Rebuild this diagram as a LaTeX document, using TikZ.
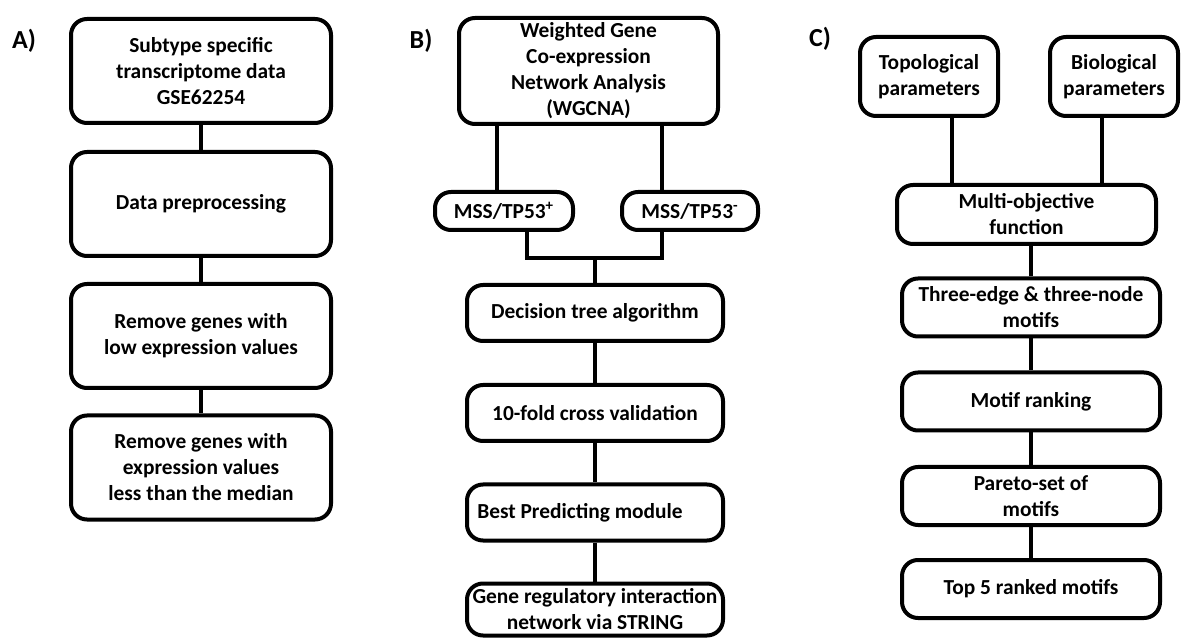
\documentclass[tikz,border=0pt]{standalone}
\usepackage{fontspec}
\setmainfont{Carlito}

\begin{document}
\begin{tikzpicture}[x=0.5pt, y=-0.5pt, line width=2pt,
  box/.style={draw, rounded corners=8pt, align=center, inner sep=1pt, font=\fontsize{10.7}{13}\selectfont\bfseries},
  abox/.style={box, minimum width=130pt, minimum height=52pt},
  bbox/.style={box, minimum width=128pt, minimum height=28pt},
  cbox/.style={box, minimum width=129pt, minimum height=29pt},
  panel/.style={font=\fontsize{13}{15}\selectfont\bfseries}]

\useasboundingbox (0,0) rectangle (1182,640);

\node [panel] (pa) at (24,41) {A)};
\node [panel] (pb) at (421,41) {B)};
\node [panel] (pc) at (820,39) {C)};

\node [abox] (data) at (201,71) {Subtype specific\\transcriptome data\\GSE62254};
\node [abox] (prep) at (201,204) {Data preprocessing};
\node [abox] (low) at (201,336) {Remove genes with\\low expression values};
\node [abox] (median) at (201,467.5) {Remove genes with\\expression values\\less than the median};

\draw (data) -- (prep);
\draw (prep) -- (low);
\draw (low) -- (median);

\node [box, minimum width=129.5pt, minimum height=53pt] (wgcna) at (588.5,71) {Weighted Gene\\Co-expression\\Network Analysis\\(WGCNA)};
\node [box, minimum width=69pt, minimum height=19pt] (tpp) at (504,211) {MSS/TP53\textsuperscript{+}};
\node [box, minimum width=68pt, minimum height=19pt] (tpm) at (690,211) {MSS/TP53\textsuperscript{-}};
\node [bbox] (tree) at (595,313) {Decision tree algorithm};
\node [bbox] (cv) at (595,413) {10-fold cross validation};
\node [bbox] (best) at (595,512.5) {Best Predicting module\hspace*{15pt}};
\node [bbox, minimum height=26pt] (string) at (595,609.5) {Gene regulatory interaction\\network via STRING};

\coordinate (join) at (595,258);
\draw (wgcna.south -| 497,0) -- (497,0 |- tpp.north);
\draw (wgcna.south -| 662,0) -- (662,0 |- tpm.north);
\draw (tpp.south -| 527,0) |- (join) -| (tpm.south -| 662,0);
\draw (join) -- (tree.north);
\draw (tree) -- (cv);
\draw (cv) -- (best);
\draw (best) -- (string);

\node [box, minimum width=69pt, minimum height=39.5pt] (topo) at (929,76.5) {Topological\\parameters};
\node [box, minimum width=64pt, minimum height=39.5pt] (bio) at (1114,76.5) {Biological\\parameters};
\node [box, minimum width=129.5pt, minimum height=29.5pt] (multi) at (1026.5,214.5) {Multi-objective\\function};
\node [cbox] (motifs) at (1031,307.5) {Three-edge \& three-node\\motifs};
\node [cbox] (rank) at (1031,401.5) {Motif ranking};
\node [cbox] (pareto) at (1031,496) {Pareto-set of\\motifs};
\node [cbox] (top) at (1031,589) {Top 5 ranked motifs};

\draw (topo.south -| 952,0) -- (952,0 |- multi.north);
\draw (bio.south -| 1102,0) -- (1102,0 |- multi.north);
\draw (motifs.north |- multi.south) -- (motifs.north);
\draw (motifs) -- (rank);
\draw (rank) -- (pareto);
\draw (pareto) -- (top);

\end{tikzpicture}
\end{document}
